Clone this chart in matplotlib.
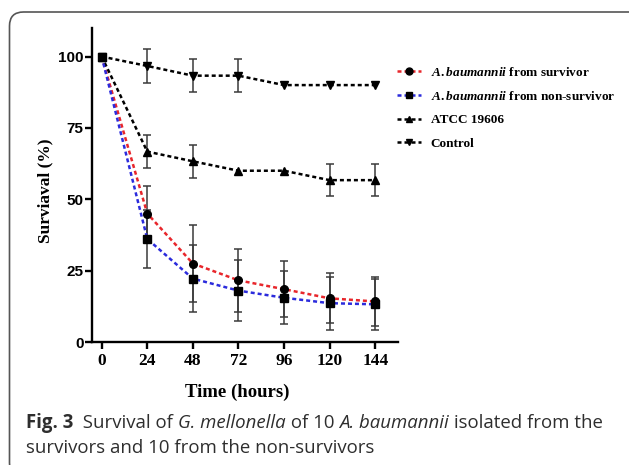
import matplotlib
matplotlib.use("Agg")
import matplotlib.pyplot as plt
import matplotlib.transforms as mtransforms
from matplotlib.patches import FancyBboxPatch
from matplotlib.lines import Line2D
import numpy as np

plt.rcParams['mathtext.fontset'] = 'custom'
plt.rcParams['mathtext.it'] = 'Liberation Serif:italic:bold'
plt.rcParams['mathtext.rm'] = 'Liberation Serif:bold'

hours = [0, 24, 48, 72, 96, 120, 144]
survivor = [100, 45.0, 27.5, 21.6, 18.5, 15.3, 14.2]
survivor_err = [0, 9.5, 13.5, 11.0, 9.8, 8.8, 8.6]
nonsurvivor = [100, 36.1, 22.2, 18.0, 15.5, 13.6, 13.2]
nonsurvivor_err = [0, 10.2, 11.8, 10.8, 9.3, 9.3, 9.0]
atcc = [100, 66.7, 63.3, 60.0, 60.0, 56.7, 56.7]
atcc_err = [0, 5.7, 5.8, 0, 0, 5.7, 5.7]
control = [100, 96.7, 93.3, 93.3, 90.0, 90.0, 90.0]
control_err = [0, 5.8, 5.8, 5.8, 0, 0, 0]

labels = [r"$A.baumannii$ from survivor",
          r"$A.baumannii$ from non-survivor",
          "ATCC 19606",
          "Control"]
yticks = [0, 25, 50, 75, 100]

W, H = 629, 465
fig = plt.figure(figsize=(W / 100, H / 100), dpi=100)

# frame
frame = FancyBboxPatch((9.5, -12), 640, 465 - 12 + 12, boxstyle="round,pad=0,rounding_size=14",
                       transform=mtransforms.IdentityTransform(), fill=False,
                       edgecolor='#555555', linewidth=1.2)
fig.patches.append(frame)

ax = fig.add_axes([92 / W, 1 - 342 / H, (398 - 92) / W, (342 - 28) / H])

series = [
    (survivor, survivor_err, '#e8262b', 'o', 2),
    (nonsurvivor, nonsurvivor_err, '#2b2bdc', 's', 3),
    (atcc, atcc_err, 'black', '^', 2),
    (control, control_err, 'black', 'v', 2),
]
handles = []
for (vals, errs, col, mk, z) in series:
    x = np.array(hours, dtype=float)
    v = np.array(vals, dtype=float)
    e = np.array(errs, dtype=float)
    m = e > 0
    ax.errorbar(x[m], v[m], yerr=e[m], fmt='none', ecolor='#3a3a3a', elinewidth=1.1,
                capsize=3.2, capthick=1.1, zorder=1)
    ax.plot(x, v, color=col, linestyle=(0, (1.6, 1.2)), linewidth=1.8, zorder=z)
    ax.plot(x, v, linestyle='none', marker=mk, markersize=5.5, color='black', zorder=4)
    handles.append(Line2D([], [], color=col, linestyle=(0, (1.6, 1.2)), linewidth=1.8,
                          marker=mk, markersize=5, markerfacecolor='black',
                          markeredgecolor='black'))

ax.set_xlim(-5.1, 156)
ax.set_ylim(0, 110)
ax.set_xticks(hours)
ax.set_yticks(yticks)
for s in ['top', 'right']:
    ax.spines[s].set_visible(False)
for s in ['left', 'bottom']:
    ax.spines[s].set_linewidth(1.7)
ax.tick_params(axis='both', width=1.7, length=5, direction='out', color='black')
ax.tick_params(axis='y', pad=1)
ax.tick_params(axis='x', pad=3)
for t in ax.get_yticklabels():
    t.set_fontfamily('Liberation Sans')
    t.set_fontweight('bold')
    t.set_fontsize(11)
for t in ax.get_xticklabels():
    t.set_fontfamily('Liberation Serif')
    t.set_fontweight('bold')
    t.set_fontsize(12.5)

ax.set_ylabel('Surviaval (%)', fontfamily='Liberation Serif', fontweight='bold', fontsize=12.5)
ax.yaxis.set_label_coords((53 - 92) / 306, (342 - 191) / 314)
ax.set_xlabel('Time (hours)', fontfamily='Liberation Serif', fontweight='bold', fontsize=13.5)
ax.xaxis.set_label_coords((237 - 92) / 306, (342 - 384) / 314)

leg = ax.legend(handles, labels, loc='upper left', bbox_to_anchor=(397 / W, 1 - 66 / H),
                bbox_transform=fig.transFigure, frameon=False, borderpad=0, borderaxespad=0,
                handlelength=1.8, handletextpad=0.75, labelspacing=0.84,
                prop={'family': 'Liberation Serif', 'weight': 'bold', 'size': 9.5})

# caption
renderer = fig.canvas.get_renderer()
cap_color = '#2e2e2e'
cap_size = 13.4
cap_font = 'Open Sans'

def place(pieces, x_px, y_px):
    x = x_px
    for txt, weight, style in pieces:
        t = fig.text(x / W, 1 - y_px / H, txt, fontfamily=cap_font, fontweight=weight,
                     fontstyle=style, fontsize=cap_size, color=cap_color, va='baseline', ha='left')
        x += t.get_window_extent(renderer).width

place([("Fig. 3", 'bold', 'normal'), ("  Survival of ", 'normal', 'normal'),
       ("G. mellonella", 'normal', 'italic'), (" of 10 ", 'normal', 'normal'),
       ("A. baumannii", 'normal', 'italic'), (" isolated from the", 'normal', 'normal')], 26, 428)
place([("survivors and 10 from the non-survivors", 'normal', 'normal')], 26, 453)

fig.savefig('out.png', dpi=100)
